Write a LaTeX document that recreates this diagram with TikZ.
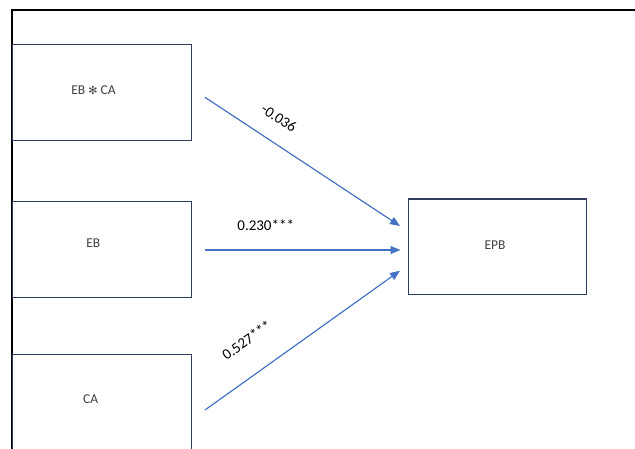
\documentclass[tikz,border=0pt]{standalone}
\usepackage{fontspec}
\setmainfont{Carlito}
\newfontfamily\symfont{DejaVu Sans}
\usetikzlibrary{arrows.meta}
\definecolor{boxline}{RGB}{47,62,94}
\definecolor{boxtext}{RGB}{64,64,64}
\definecolor{pathblue}{RGB}{68,114,196}
\begin{document}
\begin{tikzpicture}[x=1pt,y=-1pt,
  varbox/.style={draw=boxline,line width=1.3pt,fill=white,minimum width=178.6pt,
    minimum height=95.8pt,inner sep=0pt},
  varlabel/.style={text=boxtext,font=\fontsize{13.5}{16}\selectfont,inner sep=0pt},
  pathline/.style={draw=pathblue,line width=1.2pt,-{Triangle[length=10pt,width=8pt]}},
  coef/.style={text=black,font=\fontsize{15}{18}\selectfont,inner sep=0pt}]
  \useasboundingbox (0,0) rectangle (635,448);
  % outer frame
  \draw[line width=2pt,black] (11.7,449) -- (11.7,10.3) -- (636,10.3);
  % variables
  \node[varbox] (ebca) at (102,92.6) {};
  \node[varlabel] (ebcat) at (93.5,90) {EB {\symfont\fontsize{11}{13}\selectfont ✻} CA};
  \node[varbox] (eb) at (102,249.7) {};
  \node[varlabel] (ebt) at (93.3,243.3) {EB};
  \node[varbox] (ca) at (102,402.3) {};
  \node[varlabel] (cat) at (90.7,399) {CA};
  \node[varbox,minimum height=95.3pt,minimum width=178.4pt] (epb) at (497.5,246.7) {};
  \node[varlabel] (epbt) at (495,245) {EPB};
  % path endpoints
  \coordinate (s1) at (205,97.3);
  \coordinate (e1) at (400,226);
  \coordinate (s2) at (205,250);
  \coordinate (e2) at (400.5,250);
  \coordinate (s3) at (205,410);
  \coordinate (e3) at (400,270.7);
  \draw[pathline] (s1) -- (e1);
  \draw[pathline] (s2) -- (e2);
  \draw[pathline] (s3) -- (e3);
  % coefficients
  \node[coef,rotate=-33.5] (c1) at (279,118) {-0.036};
  \node[coef] (c2) at (265.7,225) {0.230***};
  \node[coef,rotate=35.5] (c3) at (246.7,340) {0.527***};
\end{tikzpicture}
\end{document}
